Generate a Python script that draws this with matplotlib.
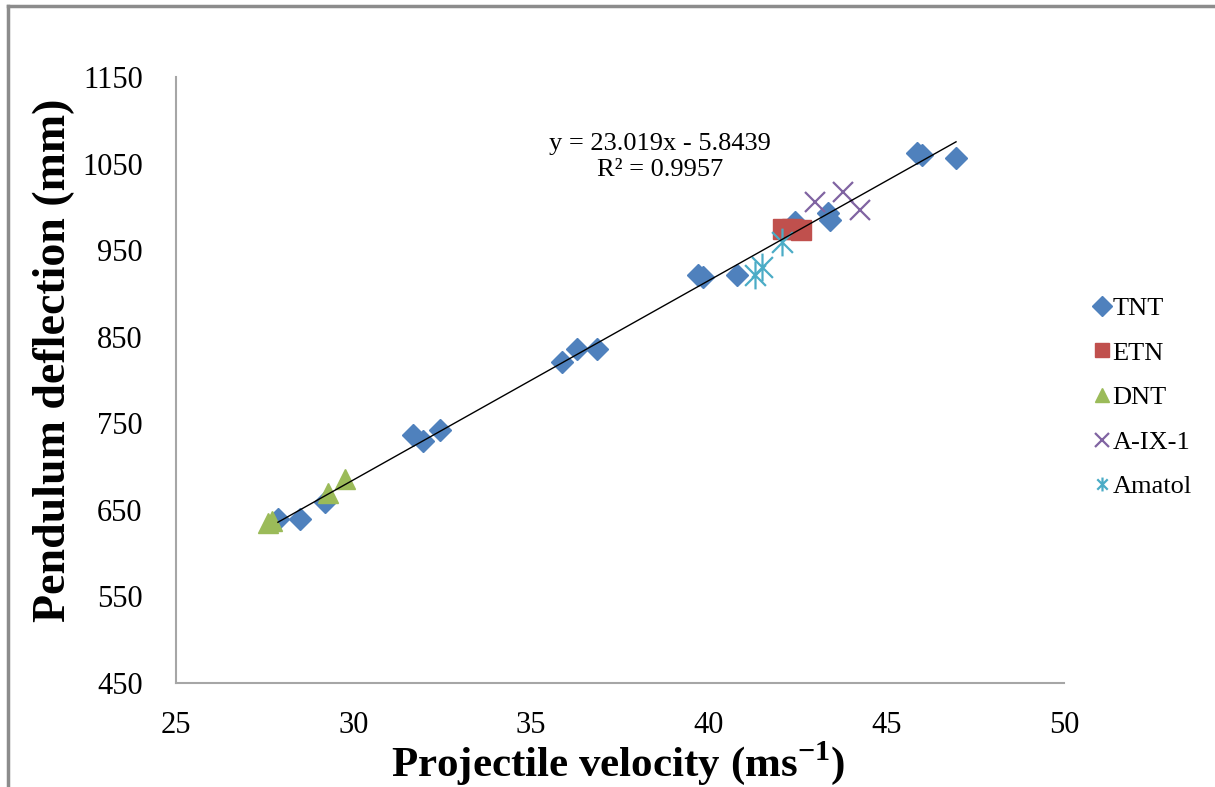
import matplotlib
matplotlib.use('Agg')
import matplotlib.pyplot as plt
import numpy as np
from matplotlib.path import Path
from matplotlib.lines import Line2D

# ---- data ----
tnt_x = [27.87, 28.49, 29.19, 31.67, 31.95, 32.43, 35.87, 36.29, 36.85,
         39.70, 39.84, 40.79, 42.43, 43.36, 43.41, 45.86, 46.00, 46.96]
tnt_y = [640, 640, 659, 736, 729, 742, 821, 836, 836,
         921, 919, 921, 982, 993, 985, 1062, 1060, 1057]
etn_x = [42.10, 42.35, 42.60]
etn_y = [974, 974, 973]
dnt_x = [27.59, 27.70, 29.28, 29.76]
dnt_y = [635, 637, 670, 686]
aix_x = [42.99, 43.78, 44.26]
aix_y = [1006, 1017, 996]
ama_x = [41.30, 41.50, 42.06]
ama_y = [921, 930, 959]

# trendline (TNT) as printed on the chart
slope = 23.019
intercept = -5.8439
r2 = 0.9957

plt.rcParams['font.family'] = ['Liberation Serif', 'DejaVu Serif']
plt.rcParams['mathtext.fontset'] = 'custom'
plt.rcParams['mathtext.rm'] = 'Liberation Serif'
plt.rcParams['mathtext.bf'] = 'Liberation Serif:bold'

# star marker like Excel: vertical line plus an x
star = Path([(0, -1), (0, 1), (-0.75, -0.75), (0.75, 0.75), (-0.75, 0.75), (0.75, -0.75)],
            [Path.MOVETO, Path.LINETO, Path.MOVETO, Path.LINETO, Path.MOVETO, Path.LINETO])

fig = plt.figure(figsize=(12.15, 7.87), dpi=100)
ax = fig.add_axes([176/1215, 1 - 683/787, 888/1215, 606/787])

# outer chart frame (left and top edges visible)
fig.add_artist(Line2D([8/1215, 8/1215], [0, 1 - 6/787], transform=fig.transFigure, color='#8c8c8c', lw=2.5))
fig.add_artist(Line2D([8/1215, 1], [1 - 6/787, 1 - 6/787], transform=fig.transFigure, color='#8c8c8c', lw=2.5))

# trendline over the TNT range
tx = np.array([min(tnt_x), max(tnt_x)])
ax.plot(tx, slope * tx + intercept, color='black', lw=1.0, zorder=3)

ax.plot(tnt_x, tnt_y, 'D', color='#4F81BD', ms=11, mec='#4F81BD', label='TNT', zorder=2)
ax.plot(etn_x, etn_y, 's', color='#C0504D', ms=14, mec='#C0504D', label='ETN', zorder=2)
ax.plot(dnt_x, dnt_y, '^', color='#9BBB59', ms=15, mec='#9BBB59', label='DNT', zorder=2)
ax.plot(aix_x, aix_y, 'x', color='#8064A2', ms=14, mew=1.6, label='A-IX-1', zorder=2)
ax.plot(ama_x, ama_y, ls='none', marker=star, color='#4BACC6', ms=20, mew=1.6, label='Amatol', zorder=2)

eq = 'y = %.3fx - %.4f\nR² = %.4f' % (slope, -intercept, r2)
fig.text(660/1215, 1 - 157/787, eq, ha='center', va='center', fontsize=19, linespacing=1.2)

ax.set_xlim(25, 50)
ax.set_ylim(450, 1150)
ax.set_xticks(np.arange(25, 51, 5))
ax.set_yticks(np.arange(450, 1151, 100))
ax.tick_params(length=0, labelsize=22)
ax.tick_params(axis='y', pad=24)
ax.tick_params(axis='x', pad=20)
for s in ['top', 'right']:
    ax.spines[s].set_visible(False)
for s in ['left', 'bottom']:
    ax.spines[s].set_color('#a6a6a6')
    ax.spines[s].set_linewidth(1.5)

fig.text(618/1215, 1 - 763/787, r'Projectile velocity (ms$^{\mathbf{-1}}$)', ha='center', va='center',
         fontsize=31, fontweight='bold')
fig.text(54/1215, 1 - 360/787, 'Pendulum deflection (mm)', ha='center', va='center',
         rotation=90, fontsize=33, fontweight='bold')

leg = ax.legend(loc='upper left', bbox_to_anchor=(1.022, 0.655), frameon=False, fontsize=19,
                handlelength=0.6, handletextpad=0.1, labelspacing=0.8, borderaxespad=0)
for h in leg.legend_handles:
    h.set_markersize(10)

fig.savefig('out.png', dpi=100, facecolor='white')
